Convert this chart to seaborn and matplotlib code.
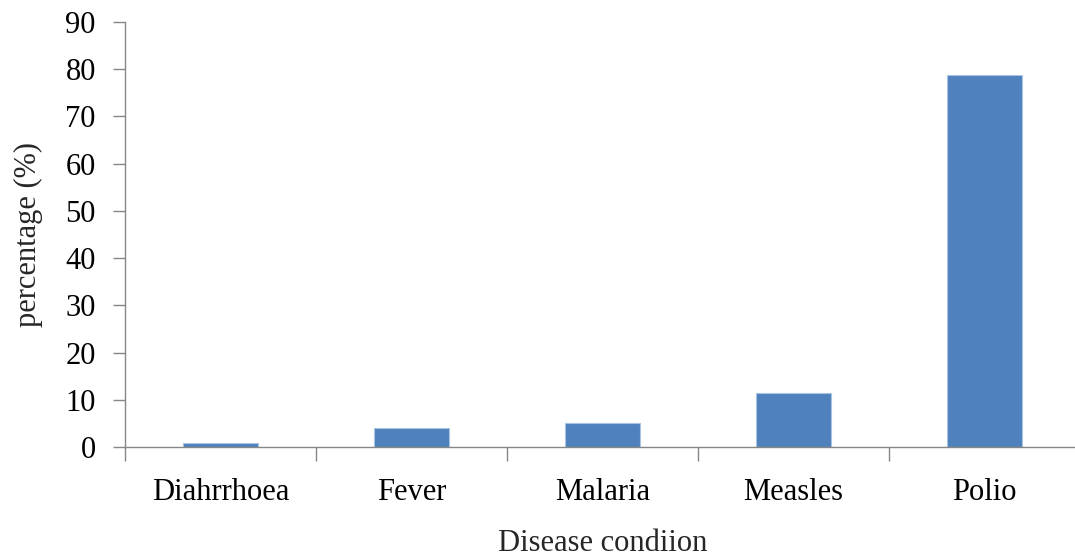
import matplotlib
matplotlib.use("Agg")
import matplotlib.pyplot as plt
import seaborn as sns
import pandas as pd
import numpy as np
from matplotlib.ticker import FixedLocator, MultipleLocator

categories = ["Diahrrhoea", "Fever", "Malaria", "Measles", "Polio"]
percentages = [0.8, 4.0, 5.0, 11.4, 78.8]

sns.set_theme(style="white")
plt.rcParams["font.family"] = ["Liberation Serif", "DejaVu Serif"]

df = pd.DataFrame({"condition": categories, "percentage": percentages})

fig = plt.figure(figsize=(10.75, 5.56), dpi=100)
ax = fig.add_axes([125 / 1075, 1 - 447 / 556, (1080 - 125) / 1075, (447 - 22) / 556])

sns.barplot(data=df, x="condition", y="percentage", color="#4F81BD",
            saturation=1, width=0.39, edgecolor="#A9C3E3", linewidth=0.8, ax=ax)

ax.set_xlim(-0.5, len(categories) - 0.5)
ax.set_ylim(0, 90)
ax.yaxis.set_major_locator(MultipleLocator(10))

# category separators drawn as minor ticks on the x axis
ax.xaxis.set_minor_locator(FixedLocator(np.arange(-0.5, len(categories), 1.0)))
ax.tick_params(axis="x", which="major", bottom=True, length=0, pad=22,
               labelsize=22, colors="black")
ax.tick_params(axis="x", which="minor", bottom=True, length=10, width=1,
               color="#868686", direction="out")
ax.tick_params(axis="y", which="major", left=True, length=9, width=1, color="#868686",
               direction="out", pad=12, labelsize=22, labelcolor="black")

for side in ["top", "right"]:
    ax.spines[side].set_visible(False)
for side in ["left", "bottom"]:
    ax.spines[side].set_color("#868686")
    ax.spines[side].set_linewidth(1)

ax.set_xlabel("Disease condiion", fontsize=22, labelpad=16)
ax.set_ylabel("percentage (%)", fontsize=22, labelpad=16)

fig.savefig("out.png", dpi=100)
